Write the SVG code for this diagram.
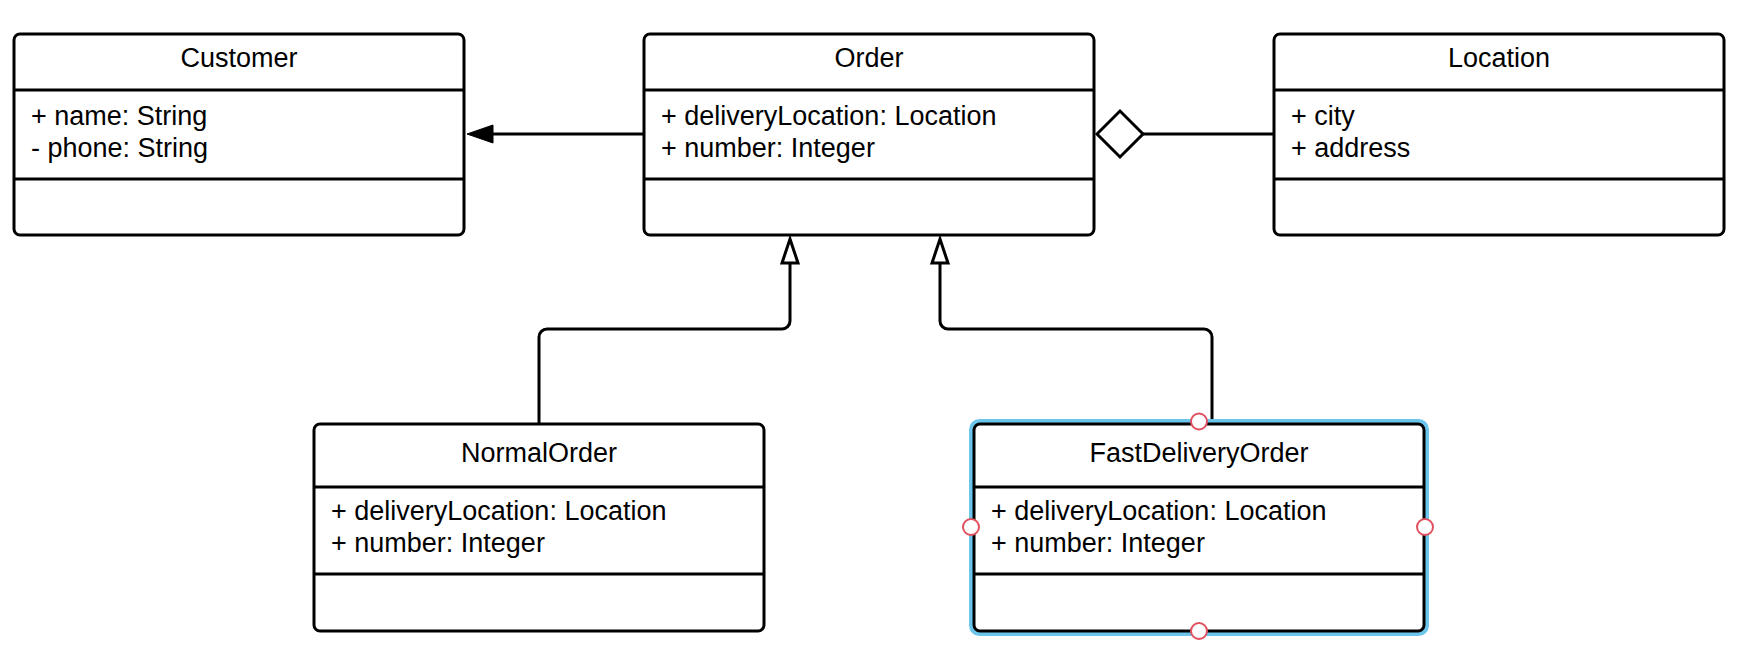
<svg xmlns="http://www.w3.org/2000/svg" width="1740" height="666" viewBox="0 0 1740 666">
<style>
.box{fill:#fff;stroke:#000;stroke-width:3}
.div{stroke:#000;stroke-width:3}
.title{font-family:"Liberation Sans",Arial,sans-serif;font-size:27px;fill:#000;text-anchor:middle}
.attr{font-family:"Liberation Sans",Arial,sans-serif;font-size:27px;fill:#000}
.conn{fill:none;stroke:#000;stroke-width:3}
.sel{fill:none;stroke:#6cc6ec;stroke-width:5}
.handle{fill:#fff;stroke:#e0505f;stroke-width:2}
</style>
<rect width="1740" height="666" fill="#fff"/>
<g id="connectors">
  <path class="conn" d="M644 134 H490"/>
  <polygon points="467,134 493,125 493,143" fill="#000" stroke="#000" stroke-width="1"/>
  <path class="conn" d="M1143 134 H1274"/>
  <polygon points="1097,134 1120,111 1143,134 1120,157" fill="#fff" stroke="#000" stroke-width="3" stroke-linejoin="miter"/>
  <path class="conn" d="M539 424 V337 A8 8 0 0 1 547 329 H782 A8 8 0 0 0 790 321 V263"/>
  <polygon points="790,239 798,263 782,263" fill="#fff" stroke="#000" stroke-width="3"/>
  <path class="conn" d="M1212 424 V337 A8 8 0 0 0 1204 329 H948 A8 8 0 0 1 940 321 V263"/>
  <polygon points="940,239 948,263 932,263" fill="#fff" stroke="#000" stroke-width="3"/>
</g>
<g id="customer">
  <rect class="box" x="14" y="34" width="450" height="201" rx="6"/>
  <line class="div" x1="14" y1="90" x2="464" y2="90"/>
  <line class="div" x1="14" y1="179" x2="464" y2="179"/>
  <text class="title" x="239" y="67">Customer</text>
  <text class="attr" x="31" y="125">+ name: String</text>
  <text class="attr" x="31" y="157">- phone: String</text>
</g>
<g id="order">
  <rect class="box" x="644" y="34" width="450" height="201" rx="6"/>
  <line class="div" x1="644" y1="90" x2="1094" y2="90"/>
  <line class="div" x1="644" y1="179" x2="1094" y2="179"/>
  <text class="title" x="869" y="67">Order</text>
  <text class="attr" x="661" y="125">+ deliveryLocation: Location</text>
  <text class="attr" x="661" y="157">+ number: Integer</text>
</g>
<g id="location">
  <rect class="box" x="1274" y="34" width="450" height="201" rx="6"/>
  <line class="div" x1="1274" y1="90" x2="1724" y2="90"/>
  <line class="div" x1="1274" y1="179" x2="1724" y2="179"/>
  <text class="title" x="1499" y="67">Location</text>
  <text class="attr" x="1291" y="125">+ city</text>
  <text class="attr" x="1291" y="157">+ address</text>
</g>
<g id="normalorder">
  <rect class="box" x="314" y="424" width="450" height="207" rx="6"/>
  <line class="div" x1="314" y1="487" x2="764" y2="487"/>
  <line class="div" x1="314" y1="574" x2="764" y2="574"/>
  <text class="title" x="539" y="462">NormalOrder</text>
  <text class="attr" x="331" y="520">+ deliveryLocation: Location</text>
  <text class="attr" x="331" y="552">+ number: Integer</text>
</g>
<g id="fastdeliveryorder">
  <rect class="sel" x="971.5" y="421.5" width="455" height="212" rx="8"/>
  <rect class="box" x="974" y="424" width="450" height="207" rx="6"/>
  <line class="div" x1="974" y1="487" x2="1424" y2="487"/>
  <line class="div" x1="974" y1="574" x2="1424" y2="574"/>
  <text class="title" x="1199" y="462">FastDeliveryOrder</text>
  <text class="attr" x="991" y="520">+ deliveryLocation: Location</text>
  <text class="attr" x="991" y="552">+ number: Integer</text>
  <circle class="handle" cx="1199" cy="421.5" r="8"/>
  <circle class="handle" cx="1199" cy="631" r="8"/>
  <circle class="handle" cx="971" cy="527" r="8"/>
  <circle class="handle" cx="1425" cy="527" r="8"/>
</g>
</svg>
